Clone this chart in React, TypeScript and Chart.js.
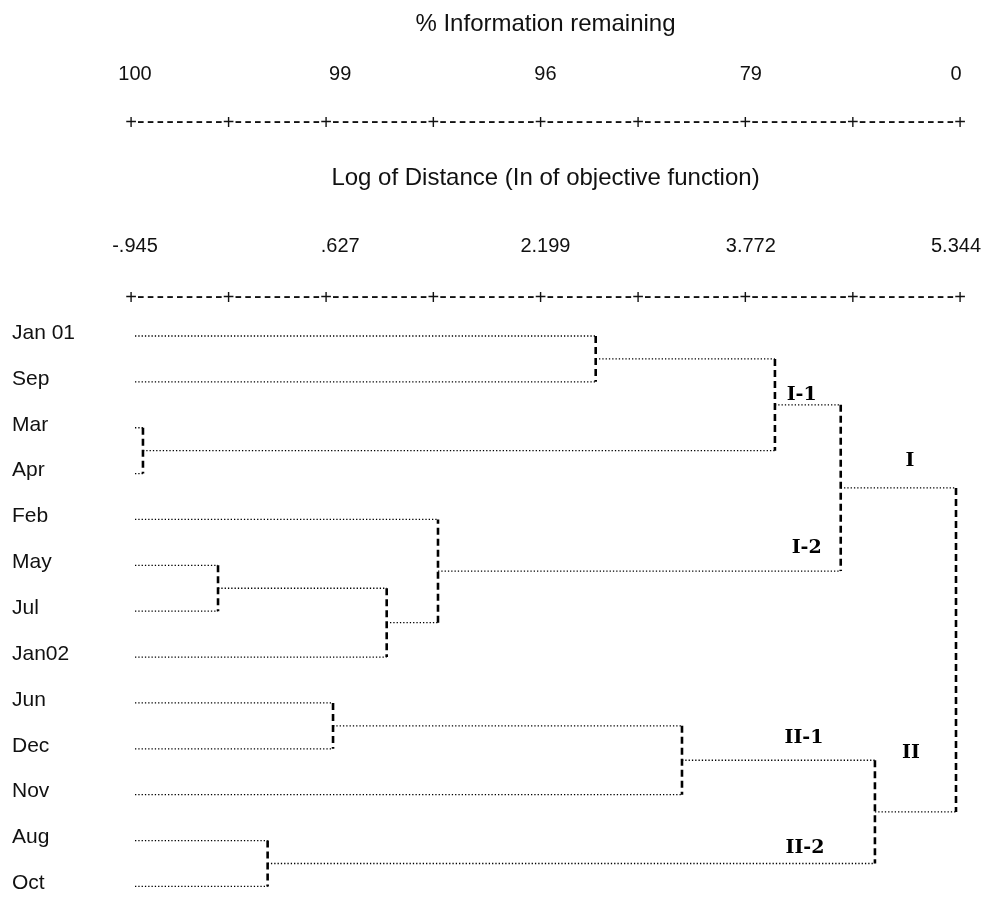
import React, { useEffect, useRef } from "react";
import { Chart, registerables } from "chart.js";

Chart.register(...registerables);

// ---- data ----
const leaves = ["Jan 01", "Sep", "Mar", "Apr", "Feb", "May", "Jul", "Jan02", "Jun", "Dec", "Nov", "Aug", "Oct"];
// agglomeration schedule: nodes 0..12 are the leaves, merge k creates node 13 + k
const mergeLeft = [2, 5, 11, 8, 14, 17, 0, 16, 19, 21, 20, 22];
const mergeRight = [3, 6, 12, 9, 7, 4, 1, 10, 13, 18, 15, 23];
const mergeDistance = [-0.884, -0.309, 0.071, 0.572, 0.983, 1.376, 2.584, 3.245, 3.957, 4.461, 4.723, 5.344];
const distanceTicks = [-0.945, 0.627, 2.199, 3.772, 5.344];
const distanceTickLabels = ["-.945", ".627", "2.199", "3.772", "5.344"];
const infoTickLabels = ["100", "99", "96", "79", "0"];
const clusterNames = ["I-1", "I-2", "I", "II-1", "II-2", "II"];
const clusterNodes = [21, 18, 22, 20, 15, 23];

const FAMILY = '"Liberation Sans", Arial, Helvetica, sans-serif';
const nLeaves = leaves.length;

function nodeY(n: number): number {
  if (n < nLeaves) return n;
  const k = n - nLeaves;
  return (nodeY(mergeLeft[k]) + nodeY(mergeRight[k])) / 2;
}
function nodeX(n: number): number {
  return n < nLeaves ? distanceTicks[0] : mergeDistance[n - nLeaves];
}
function parentOf(n: number): number {
  for (let k = 0; k < mergeLeft.length; k++) {
    if (mergeLeft[k] === n || mergeRight[k] === n) return nLeaves + k;
  }
  return -1;
}

// styling of the ASCII-like rulers and cluster annotations
const rulerCounts = [9, 9, 10, 10, 9, 10, 10, 10];
const clusterLabelOffsets: [number, number][] = [
  [-39, -10],
  [-34, -23],
  [-46, -27],
  [-71, -22],
  [-70, -15],
  [-45, -59],
];

function drawRuler(ctx: CanvasRenderingContext2D, x0: number, x1: number, y: number) {
  const units = rulerCounts.reduce((s, c) => s + c + 1, 0);
  const u = (x1 - x0) / units;
  ctx.save();
  ctx.fillStyle = "#111";
  ctx.textAlign = "center";
  ctx.textBaseline = "alphabetic";
  const plus = (x: number) => {
    ctx.font = `20px ${FAMILY}`;
    ctx.fillText("+", x, y + 7);
  };
  const dash = (x: number) => {
    ctx.font = `23px ${FAMILY}`;
    ctx.fillText("-", x, y + 6);
  };
  let x = x0;
  plus(x);
  rulerCounts.forEach((c) => {
    for (let i = 1; i <= c; i++) dash(x + i * u);
    x += (c + 1) * u;
    plus(x);
  });
  ctx.restore();
}

const annotationPlugin = {
  id: "dendroAnnotations",
  afterDraw(chart: any) {
    const ctx = chart.ctx as CanvasRenderingContext2D;
    const area = chart.chartArea;
    const xs = chart.scales.x;
    const ys = chart.scales.y;
    drawRuler(ctx, area.left - 4, area.right + 4, xs.top + 32);
    drawRuler(ctx, area.left - 4, area.right + 4, area.top);

    ctx.save();
    ctx.fillStyle = "#000";
    ctx.font = 'bold 19px "DejaVu Serif", serif';
    ctx.textAlign = "center";
    ctx.textBaseline = "middle";
    clusterNames.forEach((name, i) => {
      const node = clusterNodes[i];
      const parent = parentOf(node);
      const px = xs.getPixelForValue(nodeX(parent));
      const py = ys.getPixelForValue(nodeY(node));
      const [dx, dy] = clusterLabelOffsets[i];
      ctx.fillText(name, px + dx, py + dy);
    });
    ctx.restore();
  },
};

export default function App() {
  const ref = useRef<HTMLCanvasElement | null>(null);

  useEffect(() => {
    const canvas = ref.current;
    if (!canvas) return;

    const hData: any[] = [];
    const vData: any[] = [];
    mergeDistance.forEach((d, k) => {
      const a = mergeLeft[k];
      const b = mergeRight[k];
      [a, b].forEach((c) => {
        hData.push({ x: nodeX(c), y: nodeY(c) }, { x: d, y: nodeY(c) }, { x: d, y: null });
      });
      vData.push({ x: d, y: nodeY(a) }, { x: d, y: nodeY(b) }, { x: d, y: null });
    });

    const topAxis = (labels: string[], title: string, weight: number, tickPad: number, titlePad: any) => ({
      type: "linear" as const,
      axis: "x" as const,
      position: "top" as const,
      min: distanceTicks[0],
      max: distanceTicks[distanceTicks.length - 1],
      weight,
      grid: { display: false, drawTicks: false, tickLength: 0 },
      border: { display: false },
      afterBuildTicks: (s: any) => {
        s.ticks = distanceTicks.map((v) => ({ value: v }));
      },
      afterFit: (s: any) => {
        s.paddingLeft = 0;
        s.paddingRight = 0;
      },
      ticks: {
        autoSkip: false,
        maxRotation: 0,
        minRotation: 0,
        padding: tickPad,
        color: "#111",
        font: { size: 20, family: FAMILY },
        callback: (_v: any, i: number) => labels[i],
      },
      title: {
        display: true,
        text: title,
        color: "#111",
        font: { size: 24, family: FAMILY },
        padding: titlePad,
      },
    });

    const chart = new Chart(canvas, {
      type: "scatter",
      data: {
        datasets: [
          {
            label: "links",
            data: hData,
            showLine: true,
            borderColor: "#000",
            borderWidth: 1.3,
            borderDash: [1.3, 2],
            pointRadius: 0,
            spanGaps: false,
            clip: false,
            xAxisID: "x",
            yAxisID: "y",
          },
          {
            label: "joins",
            data: vData,
            showLine: true,
            borderColor: "#000",
            borderWidth: 2.6,
            borderDash: [7, 4],
            pointRadius: 0,
            spanGaps: false,
            clip: false,
            xAxisID: "x",
            yAxisID: "y",
          },
        ],
      },
      options: {
        responsive: false,
        animation: false,
        events: [],
        layout: { padding: { left: 4, right: 26, top: 0, bottom: 0 } },
        plugins: { legend: { display: false }, tooltip: { enabled: false } },
        scales: {
          x: topAxis(distanceTickLabels, "Log of Distance (In of objective function)", 1, 39, { top: 73.6, bottom: 2.6 }),
          x2: topAxis(infoTickLabels, "% Information remaining", 2, 4, { top: 1.6, bottom: 19.6 }),
          y: {
            type: "linear",
            reverse: true,
            min: -0.85,
            max: 12.1,
            grid: { display: false, drawTicks: false },
            border: { display: false },
            afterBuildTicks: (s: any) => {
              s.ticks = leaves.map((_, i) => ({ value: i }));
            },
            afterFit: (s: any) => {
              s.width = 123;
              s.paddingTop = 0;
              s.paddingBottom = 0;
            },
            ticks: {
              autoSkip: false,
              crossAlign: "far",
              padding: 0,
              labelOffset: -3,
              color: "#111",
              font: { size: 21, family: FAMILY },
              callback: (v: any) => leaves[Math.round(Number(v))] ?? "",
            },
          },
        },
      } as any,
      plugins: [annotationPlugin],
    });

    return () => chart.destroy();
  }, []);

  return (
    <div style={{ width: 974, height: 883 }}>
      <canvas ref={ref} width={974} height={883} style={{ display: "block" }} />
    </div>
  );
}
